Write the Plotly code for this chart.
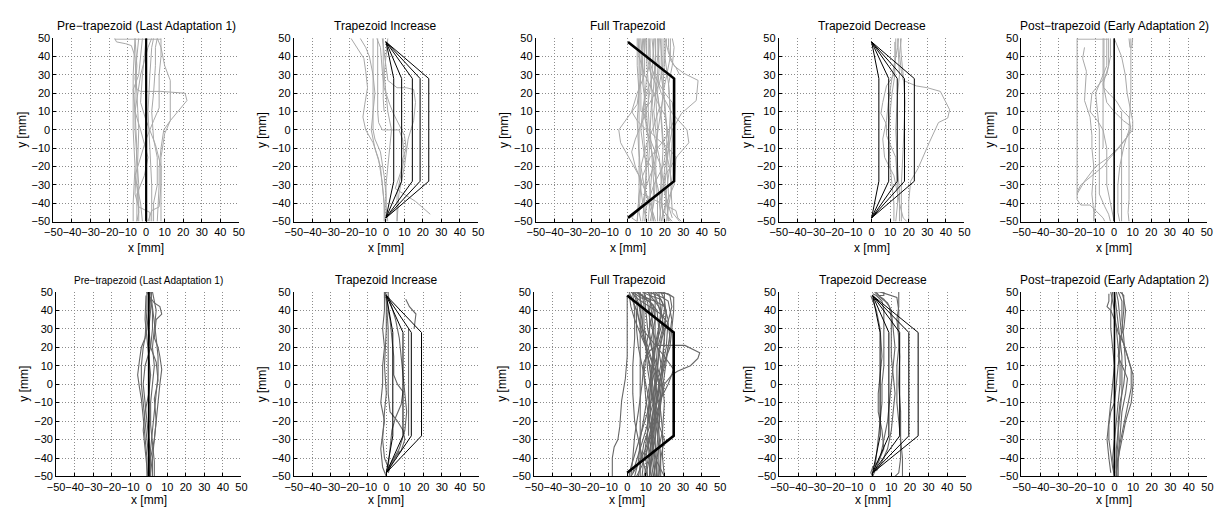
import plotly.graph_objects as go

W, H = 1227, 515
FONT = "Liberation Sans, Arial, Helvetica, sans-serif"

TITLES = ["Pre\u2212trapezoid (Last Adaptation 1)", "Trapezoid Increase", "Full Trapezoid",
          "Trapezoid Decrease", "Post\u2212trapezoid (Early Adaptation 2)",
          "Pre\u2212trapezoid (Last Adaptation 1)", "Trapezoid Increase", "Full Trapezoid",
          "Trapezoid Decrease", "Post\u2212trapezoid (Early Adaptation 2)"]
TICKS = [-50, -40, -30, -20, -10, 0, 10, 20, 30, 40, 50]
X_LABEL = "x [mm]"
Y_LABEL = "y [mm]"

# trapezoid geometry (mm)
APEX_Y = 48
CORNER_Y = 28
TRAP_INC_R1 = [4.2, 8.5, 14.3, 18.5, 23.2]
TRAP_DEC_R1 = [3.9, 9.2, 13.8, 17.7, 23.0]
TRAP_INC_R2 = [3.5, 9.0, 13.5, 19.0]
TRAP_DEC_R2 = [4.0, 8.7, 14.5, 19.4, 24.4]
TRAP_FULL = 25

# trajectories (x, y) in mm
P1 = [
    [(-7,-50),(-7,-40),(-6,-20),(-7,0),(-7,30),(-6,50)],
    [(-17,50),(-16,48),(-11,47),(-8,46),(-6,40),(-5,20),(-4,0),(-5,-30),(-4,-45),(-5,-50)],
    [(-17,49.5),(8,49.5)],
    [(6,-50),(7,-30),(7,-21),(8,-10),(9.5,0),(13,5),(22,16),(21,20),(8,21),(-3,21),(-5,22),(-6,28),(-5,40),(-4,50)],
    [(8,-50),(8,-15),(10,-2),(13,5),(13,27),(10,35),(8,45),(6,50)],
    [(-2,-50),(-3,-40),(-6,-25),(-3,-15),(0,-5),(4,5),(7,12),(7,30),(8,40),(8,50)],
    [(-5,-50),(-5,-35),(-1,-25),(1,-15),(-3,0),(-6,10),(-7,22),(-4,30),(-3,40),(-2,50)],
    [(2,-50),(2,-45),(-4,-42),(-6,-35),(-5,-10),(-6,10),(-3,30),(1,45),(3,50)],
    [(1,-50),(3,-44),(7,-42),(8,-30),(8,-20),(5,-8),(0,5),(-3,15),(-2,30),(0,50)],
    [(4,-50),(4,-40),(6,-30),(6,-15),(4,-5),(3,10),(4,20),(5,35),(5,45),(6,50)],
    [(-4,-50),(-4,-30),(-5,-15),(-6,0),(-6,20),(-5,35),(-6,50)],
    [(3,-50),(3,-30),(2,-10),(1,10),(2,30),(3,45),(4,50)],
]
P2 = [
    [(-19,50),(-16,45),(-12,39),(-11,32),(-10,23),(-11.5,14),(-12.5,7),(-11,0),(-7,-7),(-4,-16),(-2,-29),(-1,-40),(-1,-50)],
    [(-14,50),(-11,45),(-9,40),(-7,30),(-6,20),(-7,10),(-8,0),(-6,-10),(-3,-20),(-2,-30),(-1,-40),(-0.5,-50)],
    [(-7,50),(-7,30),(-7,10),(-7,0),(-6,-5),(-3,-12),(-1,-25),(0,-35),(0,-50)],
    [(-4.5,50),(-4.5,30),(-4.5,10),(-4,4),(-2,0),(7,0),(9,-5),(10,-15),(8,-25),(6,-35),(6,-50)],
    [(-5,50),(-3,45),(-2,32),(-1,23),(2,14),(4,9),(10,-3),(11,-10),(9,-16),(8,-23),(5,-32),(16,-39),(24,-46)],
    [(-2,50),(-1,42),(0,35),(1,27),(6,23),(11,23),(15,22),(16,15),(15,5),(12,-5),(10,-20),(7,-35),(6,-50)],
    [(1,50),(0,40),(-1,30),(0,20),(1,10),(3,0),(2,-10),(1,-20),(0,-30),(0,-42),(1,-50)],
    [(-1.5,50),(-1.5,30),(-1.5,17),(-1,10)],
]
P3 = [
    [(8,50),(7,30),(5,14),(-5,0),(-4,-7),(2,-18),(6,-25),(8,-40),(10,-50)],
    [(20,50),(22,42),(25,35),(30,31),(38,27),(37,16),(29,9),(24,0),(20,-20),(18,-40),(17,-50)],
    [(15,50),(15,30),(18,20),(24,9),(32,0),(33,-7),(27,-14),(20,-25),(18,-40),(20,-50)],
    [(6,50),(6,30),(6,10),(6,-10),(7,-30),(6,-45),(7,-50)],
    [(7,50),(8,35),(9,20),(8,5),(9,-10),(10,-25),(9,-40),(10,-50)],
    [(10,50),(10,40),(11,25),(11,10),(12,-5),(11,-20),(12,-35),(11,-50)],
    [(12,50),(12,35),(13,20),(12,0),(13,-15),(14,-30),(13,-50)],
    [(13,50),(14,40),(15,20),(16,0),(15,-20),(16,-40),(16,-50)],
    [(16,50),(17,35),(16,20),(18,5),(19,-10),(18,-30),(19,-50)],
    [(18,50),(18,30),(20,15),(21,0),(21,-20),(22,-35),(21,-50)],
    [(21,50),(20,40),(22,25),(23,10),(24,-5),(23,-25),(24,-45),(28,-50)],
    [(24,50),(25,45),(24,35),(22,25),(23,10),(22,-10),(20,-30),(22,-50)],
    [(9,50),(9,30),(5,20),(2,10),(5,5),(10,0),(14,-10),(18,-20),(20,-35),(24,-48)],
    [(14,50),(13,30),(11,15),(8,5),(4,-5),(2,-12),(4,-20),(8,-30),(12,-40),(15,-50)],
    [(19,50),(19,35),(17,25),(12,15),(8,10),(11,0),(16,-5),(22,-10),(26,-15),(25,-30),(20,-42),(18,-50)],
    [(11,50),(11,40),(14,30),(20,20),(24,15),(25,5),(20,-5),(12,-15),(8,-25),(6,-35),(5,-50)],
    [(6.5,50),(6.5,35),(7,20),(7,10)],
    [(22,50),(22,45),(23,38),(26,34),(28,30)],
    [(17,50),(16,30),(14,10),(16,-10),(14,-20),(10,-30),(8,-40),(2,-48),(5,-50)],
    [(8,-35),(14,-38),(22,-42),(26,-44),(27,-48),(29,-50)],
    [(5,50),(5,35),(6,20),(5,5),(6,-15),(6,-35),(5,-50)],
    [(8.5,50),(8,40),(8,25),(10,10),(11,-5),(10,-20),(9,-35),(8,-50)],
    [(11.5,50),(12,38),(10,28),(9,15),(10,0),(13,-12),(15,-25),(14,-40),(12,-50)],
    [(14.5,50),(15,40),(14,25),(13,12),(14,-2),(17,-15),(18,-28),(17,-40),(18,-50)],
    [(17.5,50),(18,42),(19,30),(19,18),(17,5),(15,-8),(13,-22),(12,-35),(14,-50)],
    [(20,50),(20,40),(19,25),(20,10),(22,-5),(23,-18),(21,-32),(20,-45),(23,-50)],
    [(23,50),(23,40),(21,30),(19,20),(18,8),(19,-5),(22,-18),(24,-30),(22,-42),(21,-50)],
    [(9.5,50),(10,42),(12,32),(15,25),(17,12),(14,2),(10,-8),(7,-20),(9,-32),(12,-42),(14,-50)],
    [(16.5,50),(16,38),(13,28),(10,20),(8,12),(7,0),(9,-15),(14,-22),(17,-35),(19,-44),(24,-50)],
    [(5.5,50),(6,40),(9,30),(13,22),(16,15),(20,8),(22,-5),(19,-20),(14,-30),(10,-42),(9,-50)],
]
P4 = [
    [(16,50),(15,41),(16,32),(17,27),(24,24),(30,23),(37,21),(40,15),(42,11),(41,6.5),(36,4),(31,-7),(25,-21),(21,-28),(20,-39),(20,-50)],
    [(13,50),(13,40),(12,30),(8,24),(6,15),(5,9),(8,3),(8,-3),(10,-8),(13,-15),(14,-30),(14,-40),(13,-50)],
    [(14,50),(14.5,40),(15,30),(14,20),(13,0),(14,-20),(15,-35),(15,-50)],
    [(15.5,50),(16,40),(17,30),(18,15),(17,-10),(16,-30),(16,-50)],
    [(12.5,48),(12.5,30),(11,20),(10,10),(9,0),(10,-20),(11,-30),(12,-40),(12,-50)],
    [(14.5,50),(14,45),(12,35),(9,15),(8,5),(6,-5),(7,-15),(12,-25),(15,-40),(17,-48),(19,-50)],
]
P5 = [
    [(-20,49.5),(-3,49.5)],
    [(-20,50),(-20,20),(-20,-10),(-20,-38),(-18,-41),(-13,-41),(-10,-44),(-6,-48),(-5,-50)],
    [(-16,45),(-17,39),(-15,32),(-16,16),(-13,7),(-12,-3),(-12,-10),(-11,-20),(-12,-35),(-11,-45),(-11,-50)],
    [(-5.5,50),(-5.5,35),(-5.5,23),(-3,20),(1,16),(4,11),(8,7),(9,0),(7,-4),(2.5,-10),(-3,-16),(-6,-20),(-12,-25),(-18,-30),(-20,-34)],
    [(0,50),(4,40),(6,30),(7,20),(9,10),(10,5),(10,0),(6,-5),(2,-10),(-3,-15),(-10,-20),(-16,-28),(-20,-35)],
    [(-6,50),(-6,30),(-6,10),(-6,-10)],
    [(8,50),(8.5,45),(9.5,45),(10,50)],
    [(9,50),(9,40),(9,20),(8,0),(8,-20),(8,-38),(7.5,-45),(8,-50)],
    [(4,10),(4,-10),(4,-30),(4,-50)],
    [(-4,50),(-4,35),(-8,25),(-10,20),(-9,10),(-8,0),(-8,-20),(-8,-35),(-5,-42),(-3,-46),(-2,-50)],
    [(-3,50),(-3,35),(-6,25),(-4,15),(0,10),(5,5),(9,2),(7,-3),(5,-10),(3,-20),(2,-30),(2,-45),(3,-50)],
    [(-2,50),(-2,40),(-4,30),(-9,24),(-12,20),(-13,10),(-9,5),(-6,0),(-4,-10),(-4,-30),(-2,-40),(0,-50)],
    [(-10,-30),(-10,-40),(-11,-48),(-10,-50)],
]
P6 = [
    [(-1,50),(0,48),(3,44),(6,42),(7,38),(4,35),(3,25),(5,20),(6,15),(7,8),(6,0),(5,-10),(4,-18),(3,-29),(2,-40),(2,-50)],
    [(-1,50),(-1,40),(-2,25),(-4,20),(-5,13),(-6,5),(-5,-2),(-4,-8),(-3,-18),(-2,-30),(-1,-40),(-1,-50)],
    [(0,50),(1,45),(2,40),(2,30),(1,20),(-2,10),(-3,0),(-2,-10),(-1,-20),(0,-30),(1,-40),(1,-50)],
    [(1,50),(2,42),(3,35),(4,25),(5,15),(5,5),(4,-5),(3,-15),(2,-25),(1,-35),(0,-45),(0,-50)],
    [(0.5,50),(0,40),(-1,30),(-3,20),(-4,10),(-4,0),(-3,-10),(-2,-20),(-1,-30),(0,-40),(0.5,-50)],
    [(2,50),(3,45),(4,40),(3,30),(2,20),(3,10),(2,0),(1,-10),(1,-22),(2,-32),(3,-42),(3,-50)],
    [(-1.5,48),(-2,35),(-1,25),(0,15),(1,5),(0,-5),(-2,-15),(-3,-25),(-2,-35),(-1,-45),(-0.5,-50)],
    [(1.5,50),(1,40),(0,30),(1,20),(4,12),(5,2),(3,-8),(4,-20),(3,-30),(1,-40),(2,-48)],
]
P7 = [
    [(-1,50),(-1,40),(-2,30),(-1,20),(-2,10),(-2,0),(-3,-10),(-1,-20),(-2,-27),(-3,-35),(-2,-45),(0,-50)],
    [(0,49),(1,40),(2,35),(3,25),(4,15),(4,5),(6,0),(9,-4),(8,-11),(5,-18),(3,-25),(2,-35),(1,-45),(0,-48)],
    [(10.5,46),(12.5,42),(16,38),(15,30)],
    [(1,48),(3,42),(5,35),(7,25),(8,15),(9,5),(10,-5),(11,-15),(10,-25),(7,-35),(3,-42),(1,-48)],
    [(12,30),(12,15),(12,0),(12,-15),(12,-28)],
    [(-0.5,50),(0,45),(1,30),(1,10),(1,-5),(2,-15),(6,-20),(9,-25),(10,-30),(8,-36),(4,-40),(2,-44),(1,-48)],
    [(0,48),(0,30),(-1,10),(0,-5),(-1,-15),(-2,-30),(-1,-40),(1,-45),(3,-43),(6,-38),(7,-36)],
    [(-1,50),(1,50),(1,47),(-1,47),(-1,50)],
]
P8 = [
    [(0,48),(0,30),(0,15),(-1,3),(-3,-9),(-4,-23),(-5,-30),(-7,-34),(-8,-40),(-8,-50),(-2,-50)],
    [(15,50),(15,35),(15,21),(31,21),(39,17),(38,14),(34,10),(27,7),(24,5),(20,0),(17,-15),(15,-30),(12,-45),(12,-50)],
    [(2,50),(6,46),(12,42),(18,38),(22,33),(23,25),(20,10),(17,-5),(14,-20),(10,-35),(5,-45),(2,-50)],
    [(3,50),(7,47),(12,45),(16,40),(17,30),(16,15),(15,0),(14,-10),(10,-25),(6,-38),(3,-48)],
    [(5,50),(9,47),(15,45),(20,42),(22,35),(21,20),(18,5),(16,-10),(14,-25),(12,-40),(10,-50)],
    [(8,50),(12,48),(18,46),(21,40),(20,25),(19,10),(17,-2),(15,-15),(15,-30),(16,-45),(16,-50)],
    [(10,50),(14,49),(19,47),(22,45),(24,35),(22,20),(20,5),(18,-10),(17,-25),(18,-40),(18,-50)],
    [(12,50),(16,50),(20,49),(20,40),(18,30),(15,20),(13,5),(12,-10),(11,-25),(9,-40),(8,-50)],
    [(1,50),(3,45),(5,40),(5,30),(6,20),(8,10),(10,0),(12,-10),(13,-20),(14,-35),(15,-50)],
    [(4,50),(6,44),(8,35),(9,25),(11,15),(14,5),(16,-5),(18,-15),(19,-25),(19,-40),(20,-50)],
    [(6,50),(8,42),(8,30),(10,22),(12,10),(14,-2),(14,-15),(13,-30),(12,-45),(13,-50)],
    [(7,50),(7,35),(7,20),(7,5),(7,-10),(7,-25),(7,-40),(7,-50)],
    [(9,50),(10,40),(11,30),(13,20),(16,10),(19,0),(20,-10),(19,-25),(17,-35),(15,-45),(14,-50)],
    [(14,50),(16,45),(19,35),(20,25),(19,15),(17,5),(14,-5),(11,-15),(8,-25),(5,-35),(2,-45),(1,-50)],
    [(11,50),(14,46),(17,42),(19,37),(19,30),(17,22),(12,18),(9,12),(8,0),(6,-15),(4,-28),(3,-40),(2,-50)],
    [(3,49),(4,40),(4,25),(3,10),(3,-5),(4,-20),(6,-30),(8,-40),(10,-48)],
    [(16,50),(22,49),(25,47),(25,40),(24,30),(23,20),(20,12),(17,0),(15,-12),(17,-22),(20,-30),(18,-40),(17,-50)],
    [(13,50),(12,40),(12,28),(14,15),(16,5),(18,-5),(16,-18),(13,-28),(10,-38),(8,-44),(5,-50)],
    [(2,48),(5,40),(8,30),(12,25),(16,20),(20,15),(25,8),(22,0),(18,-8),(15,-18),(12,-30),(14,-42),(15,-50)],
    [(17,50),(18,40),(17,28),(15,18),(14,8),(13,-5),(12,-20),(14,-35),(16,-42),(19,-48),(20,-50)],
    [(6,50),(10,46),(14,43),(15,35),(13,25),(10,15),(9,5),(10,-8),(12,-20),(14,-32),(15,-42),(16,-50)],
    [(18,50),(20,46),(21,38),(19,28),(17,18),(16,8),(15,-4),(14,-16),(12,-28),(10,-40),(11,-50)],
    [(9,50),(11,44),(12,36),(14,28),(17,18),(19,6),(18,-6),(16,-18),(13,-30),(11,-42),(9,-50)],
    [(4,50),(8,48),(12,46),(14,40),(12,30),(10,20),(11,8),(13,-4),(15,-16),(15,-28),(13,-40),(12,-50)],
    [(1,49),(2,42),(4,35),(7,28),(10,20),(12,10),(13,0),(14,-10),(16,-22),(17,-35),(17,-50)],
    [(15,50),(17,48),(19,44),(18,36),(16,26),(14,16),(13,6),(11,-6),(9,-18),(7,-30),(6,-42),(4,-50)],
    [(8,49),(9,43),(9,33),(10,24),(13,14),(15,4),(16,-6),(15,-18),(14,-30),(13,-42),(14,-50)],
    [(3,50),(5,45),(6,36),(8,27),(11,18),(14,10),(17,2),(18,-10),(17,-22),(16,-34),(16,-50)],
    [(19,50),(23,48),(24,42),(22,34),(19,26),(17,16),(16,4),(15,-8),(13,-20),(9,-32),(7,-44),(6,-50)],
    [(12,49),(13,40),(14,30),(14,18),(13,6),(12,-6),(11,-18),(11,-30),(12,-42),(13,-50)],
]
P9 = [
    [(0,49),(2,48),(5,45),(6,40),(6,30),(6,20),(6,10),(5,0),(5,-10),(4,-20),(3,-30),(2,-40),(1,-48)],
    [(1,50),(3,48),(6,46),(9,42),(10,35),(10,25),(10,15),(11,5),(12,-5),(11,-15),(10,-25),(8,-35),(5,-42),(2,-47)],
    [(4,50),(7,49),(10,48),(13,47),(14,40),(14,30),(14,20),(13,10),(13,0),(13,-10),(14,-20),(15,-30),(15,-40),(14,-48),(12,-50)],
    [(-1,48),(0,45),(2,40),(4,30),(5,15),(4,5),(3,-5),(3,-15),(5,-25),(6,-35),(3,-42),(0,-45),(-1,-48),(0,-50)],
    [(14,50),(14,42),(13,35),(14,25),(14.5,15),(14,0),(15,-15),(15,-30),(16,-40),(16,-50)],
    [(2,50),(4,47),(8,44),(10,40),(11,30),(12,20),(11,10),(10,0),(9,-10),(8,-20),(6,-30),(4,-40),(2,-45),(0,-50)],
    [(3,50),(6,50),(6,48),(3,48)],
]
P10 = [
    [(-2,50),(-1,45),(0,40),(1,30),(2,20),(3,10),(3,0),(2,-10),(1,-20),(0,-30),(-1,-40),(0,-50)],
    [(-3,49),(-3,45),(-4,42),(-2,40),(0,35),(2,28),(5,22),(8,12),(10,5),(10,0),(9,-10),(6,-20),(4,-30),(2,-40),(1,-50)],
    [(1,50),(2,45),(3,35),(4,25),(7,15),(9,8),(9,-2),(7,-12),(5,-22),(3,-32),(2,-42),(2,-50)],
    [(3,50),(5,48),(5,40),(4,30),(3,20),(2,10),(1,0),(0,-10),(-2,-15),(-3,-22),(-3,-30),(-2,-38),(-1,-45),(0,-50)],
    [(2,50),(4,45),(4,35),(5,25),(6,10),(5,0),(3,-10),(2,-20),(2,-30),(1,-42),(1,-50)],
    [(0,50),(1,42),(2,33),(3,25),(4,15),(4,5),(4,-5),(3,-15),(2,-25),(1,-35),(1,-45),(1.5,-50)],
    [(-1,50),(-2,40),(-2,30),(-1,20),(0,10),(-1,0),(-2,-10),(-3,-20),(-4,-30),(-3,-40),(-2,-48)],
    [(4,50),(5,46),(6,40),(5,30),(3,25),(2,15),(5,8),(7,3),(6,-5),(4,-15),(3,-28),(2,-38),(1,-48)],
]

ROW1_GRAY = "#a8a8a8"
ROW2_GRAY = "#666666"

# panel boxes in px (left, right), (top, bottom)
X_PX = [[(45, 232.7), (288.3, 475), (533.3, 720), (779.3, 967.3), (1025, 1212.7)],
        [(47.7, 235.3), (288.3, 475.7), (531.7, 720), (780, 968.7), (1025, 1213.3)]]
Y_PX = [(33, 220.7), (292.7, 481.7)]
TITLE_Y = [20, 281]
XLAB_Y = [248, 506]

fig = go.Figure()


def ax_names(i):
    s = "" if i == 0 else str(i + 1)
    return "x" + s, "y" + s


def add_trajs(i, trajs, color, width=1.0):
    xs, ys = [], []
    for t in trajs:
        for (x, y) in t:
            xs.append(x)
            ys.append(y)
        xs.append(None)
        ys.append(None)
    xa, ya = ax_names(i)
    fig.add_trace(go.Scatter(x=xs, y=ys, mode="lines", xaxis=xa, yaxis=ya,
                             line=dict(color=color, width=width), hoverinfo="skip"))


def add_trapezoids(i, widths, width=1.0):
    xs, ys = [], []
    for w in widths:
        xs += [0, w, w, 0, None]
        ys += [APEX_Y, CORNER_Y, -CORNER_Y, -APEX_Y, None]
    xa, ya = ax_names(i)
    fig.add_trace(go.Scatter(x=xs, y=ys, mode="lines", xaxis=xa, yaxis=ya,
                             line=dict(color="black", width=width), hoverinfo="skip"))


def add_center(i, width):
    xa, ya = ax_names(i)
    fig.add_trace(go.Scatter(x=[0, 0], y=[TICKS[0], TICKS[-1]], mode="lines", xaxis=xa, yaxis=ya,
                             line=dict(color="black", width=width), hoverinfo="skip"))


data_rows = [P1, P2, P3, P4, P5, P6, P7, P8, P9, P10]
for i, tr in enumerate(data_rows):
    if i < 5:
        add_trajs(i, tr, ROW1_GRAY, 1.0)
    else:
        add_trajs(i, tr, ROW2_GRAY, 1.1)

add_center(0, 2.2)
add_trapezoids(1, TRAP_INC_R1)
add_trapezoids(2, [TRAP_FULL], 2.6)
add_trapezoids(3, TRAP_DEC_R1)
add_center(4, 1.6)
add_center(5, 1.8)
add_trapezoids(6, TRAP_INC_R2)
add_trapezoids(7, [TRAP_FULL], 2.6)
add_trapezoids(8, TRAP_DEC_R2)
add_center(9, 1.6)

layout = dict(width=W, height=H, margin=dict(l=0, r=0, t=0, b=0), autosize=False,
              paper_bgcolor="white", plot_bgcolor="white", showlegend=False,
              font=dict(family=FONT, size=11, color="black"))
annotations = []
for i in range(10):
    r, c = divmod(i, 5)
    (xl, xr) = X_PX[r][c]
    (yt, yb) = Y_PX[r]
    s = "" if i == 0 else str(i + 1)
    common = dict(range=[-50, 50], tickvals=TICKS, showgrid=True, gridcolor="#8c8c8c",
                  griddash="1px,2px", gridwidth=1, zeroline=False, showline=True,
                  linecolor="black", linewidth=1, mirror=False, ticks="inside", ticklen=3,
                  tickcolor="black", tickfont=dict(size=11, family=FONT, color="black"),
                  tickangle=0, fixedrange=True)
    layout["xaxis" + s] = dict(common, domain=[xl / W, xr / W], anchor="y" + s)
    layout["yaxis" + s] = dict(common, domain=[1 - yb / H, 1 - yt / H], anchor="x" + s)
    annotations.append(dict(text=TITLES[i], x=(xl + xr) / 2 / W, y=1 - TITLE_Y[r] / H,
                            xref="paper", yref="paper", showarrow=False, xanchor="center",
                            yanchor="middle", font=dict(size=10 if i == 5 else 12, family=FONT)))
    annotations.append(dict(text=X_LABEL, x=(xl + xr) / 2 / W, y=1 - XLAB_Y[r] / H,
                            xref="paper", yref="paper", showarrow=False, xanchor="center",
                            yanchor="middle", font=dict(size=12, family=FONT)))
    annotations.append(dict(text=Y_LABEL, x=(xl - 32) / W, y=1 - (yt + yb) / 2 / H,
                            xref="paper", yref="paper", showarrow=False, xanchor="center",
                            yanchor="middle", textangle=-90, font=dict(size=12, family=FONT)))
layout["annotations"] = annotations
fig.update_layout(**layout)
fig.write_html("out.html")
